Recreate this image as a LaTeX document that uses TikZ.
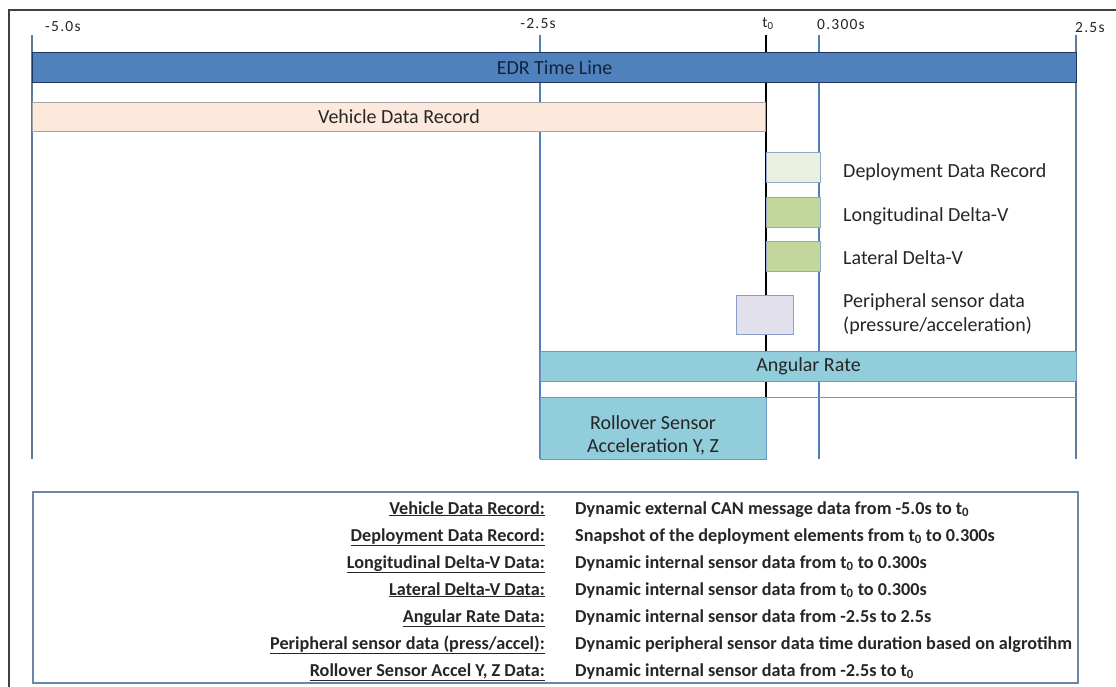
\documentclass[tikz,border=0pt]{standalone}
\usepackage{fontspec}
\setmainfont{Carlito}
\newfontfamily\tickfont[LetterSpace=8]{Carlito}
\definecolor{edrblue}{HTML}{4F81BD}
\definecolor{edrline}{HTML}{1F3760}
\definecolor{edrtext}{HTML}{14233D}
\definecolor{peach}{HTML}{FCE9DC}
\definecolor{peachline}{HTML}{A3A3A3}
\definecolor{deplight}{HTML}{EBF1DE}
\definecolor{dvgreen}{HTML}{C3D69B}
\definecolor{boxline}{HTML}{8FA8C8}
\definecolor{lav}{HTML}{E3E0EE}
\definecolor{lavline}{HTML}{8C9DC8}
\definecolor{angcyan}{HTML}{92CDDC}
\definecolor{angline}{HTML}{6D97C0}
\definecolor{gridblue}{HTML}{4F7EBF}
\definecolor{gridgray}{HTML}{607A99}
\definecolor{legline}{HTML}{6B87A5}
\definecolor{framec}{HTML}{404040}
\definecolor{txt}{HTML}{262626}
\newlength\mylen
\tikzset{
  bar/.style={draw, line width=1.2pt, inner sep=0pt, anchor=north west, text=txt,
    font=\fontsize{20}{23}\selectfont},
  lbl/.style={inner sep=0pt, text=txt, font=\fontsize{20}{23}\selectfont},
  tick/.style={inner sep=0pt, text=txt, font=\tickfont\fontsize{15.5}{18}\selectfont},
  gridline/.style={line width=2pt}
}
\begin{document}
\settowidth\mylen{\fontsize{10}{12}\selectfont\bfseries Dynamic peripheral sensor data time duration based on algrotihm}%
\pgfmathsetmacro\legsize{10*497/\mylen}%
\begin{tikzpicture}[x=1pt,y=-1pt]
\useasboundingbox (0,0) rectangle (1116,686);
\fill[white] (0,0) rectangle (1116,686);
% outer frame
\coordinate (fbl) at (9,690);
\coordinate (ftl) at (9,10);
\coordinate (ftr) at (1120,10);
\draw[framec, line width=1.5pt] (fbl) -- (ftl) -- (ftr);
% time grid lines
\foreach \n/\x/\c/\w in {m5/32/gridgray/2, m25/540/gridblue/2, pz/819/gridblue/2, p25/1076/gridgray/2, tz/766/black/2.6}{
  \coordinate (\n top) at (\x,35);
  \coordinate (\n bot) at (\x,459);
  \draw[\c, line width=\w pt] (\n top) -- (\n bot);
}
% tick labels
\node[tick, anchor=base west] (lm5) at (45,31) {-5.0s};
\node[tick, anchor=base] (lm25) at (538,28) {-2.5s};
\node[tick, anchor=base] (ltz) at (768,27) {t\textsubscript{0}};
\node[tick, anchor=base west] (lpz) at (817,29) {0.300s};
\node[tick, anchor=base west] (lp25) at (1075,32) {2.5s};
% bars
\node[bar, fill=edrblue, draw=edrline, text=edrtext, minimum width=1044pt, minimum height=30pt] (edr) at (32,52) {EDR Time Line};
\node[bar, fill=peach, draw=peachline, line width=1pt, minimum width=733pt, minimum height=29pt] (vdr) at (32,102) {Vehicle Data Record};
\node[bar, fill=deplight, draw=boxline, line width=1pt, minimum width=54pt, minimum height=30pt] (ddr) at (766,152) {};
\node[bar, fill=dvgreen, draw=boxline, line width=1pt, minimum width=54pt, minimum height=30pt] (ldv) at (766,197) {};
\node[bar, fill=dvgreen, draw=boxline, line width=1pt, minimum width=54pt, minimum height=30pt] (tdv) at (766,241) {};
\node[bar, fill=lav, draw=lavline, line width=1pt, minimum width=57pt, minimum height=39pt] (psd) at (736,295) {};
\node[bar, fill=angcyan, draw=angline, line width=1pt, minimum width=536pt, minimum height=30pt] (ang) at (540,351) {Angular Rate};
\node[bar, fill=angcyan, draw=angline, line width=1pt, minimum width=226pt, minimum height=62pt] (rol) at (540,397) {};
\coordinate (rowend) at (1076,397);
\draw[angline, line width=1pt] (rol.north east) -- (rowend);
% right-hand labels
\node[lbl, anchor=base west] (tddr) at (843,177) {Deployment Data Record};
\node[lbl, anchor=base west] (tldv) at (843,221) {Longitudinal Delta-V};
\node[lbl, anchor=base west] (ttdv) at (843,264) {Lateral Delta-V};
\node[lbl, anchor=base west] (tpsd1) at (843,307) {Peripheral sensor data};
\node[lbl, anchor=base west] (tpsd2) at (843,331) {(pressure/acceleration)};
\node[lbl, anchor=base] (trol1) at (653,429) {Rollover Sensor};
\node[lbl, anchor=base] (trol2) at (653,452) {Acceleration Y, Z};
% legend
\node[draw=legline, line width=2.4pt, fill=white, inner sep=0pt, anchor=north west,
  minimum width=1045pt, minimum height=191pt] (legend) at (32,491) {};
\tikzset{legl/.style={inner sep=0pt, text=txt, anchor=base east, font=\fontsize{\legsize}{\legsize}\selectfont\bfseries},
         legr/.style={inner sep=0pt, text=txt, anchor=base west, font=\fontsize{\legsize}{\legsize}\selectfont\bfseries}}
\node[legl] (k1) at (545,514) {\underline{Vehicle Data Record:}};
\node[legl] (k2) at (545,541) {\underline{Deployment Data Record:}};
\node[legl] (k3) at (545,568) {\underline{Longitudinal Delta-V Data:}};
\node[legl] (k4) at (545,595) {\underline{Lateral Delta-V Data:}};
\node[legl] (k5) at (545,622) {\underline{Angular Rate Data:}};
\node[legl] (k6) at (545,649) {\underline{Peripheral sensor data (press/accel):}};
\node[legl] (k7) at (545,676) {\underline{Rollover Sensor Accel Y, Z Data:}};
\node[legr] (v1) at (575,514) {Dynamic external CAN message data from -5.0s to t\textsubscript{0}};
\node[legr] (v2) at (575,541) {Snapshot of the deployment elements from t\textsubscript{0} to 0.300s};
\node[legr] (v3) at (575,568) {Dynamic internal sensor data from t\textsubscript{0} to 0.300s};
\node[legr] (v4) at (575,595) {Dynamic internal sensor data from t\textsubscript{0} to 0.300s};
\node[legr] (v5) at (575,622) {Dynamic internal sensor data from -2.5s to 2.5s};
\node[legr] (v6) at (575,649) {Dynamic peripheral sensor data time duration based on algrotihm};
\node[legr] (v7) at (575,676) {Dynamic internal sensor data from -2.5s to t\textsubscript{0}};
\end{tikzpicture}
\end{document}
